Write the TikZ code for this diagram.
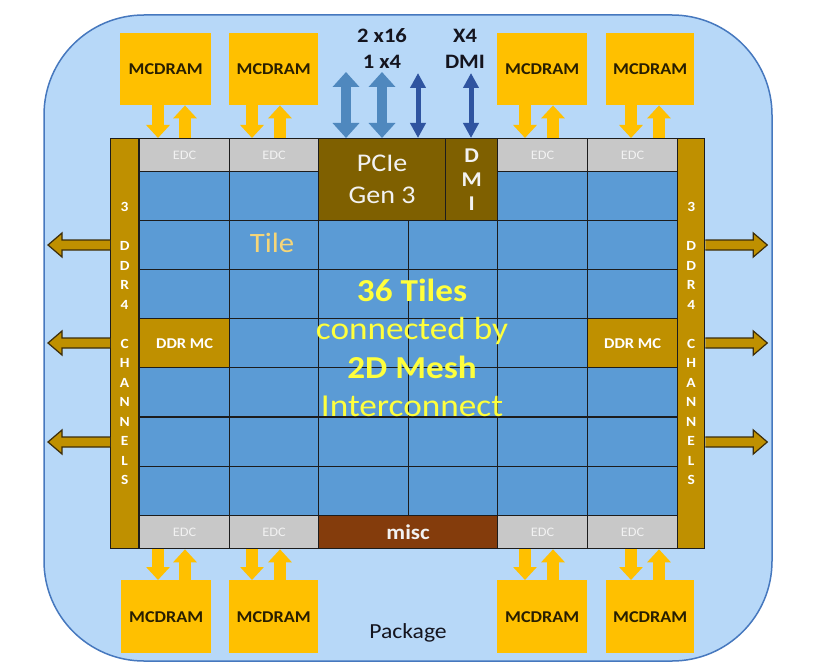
\documentclass[tikz,border=0pt]{standalone}
\usepackage{fontspec}
\setmainfont{Carlito}[FakeStretch=1.1]
\usetikzlibrary{arrows.meta}
\definecolor{cPkgFill}{RGB}{183,216,248}
\definecolor{cPkgLine}{RGB}{70,120,190}
\definecolor{cTile}{RGB}{91,155,213}
\definecolor{cGrid}{RGB}{28,28,28}
\definecolor{cEdc}{RGB}{200,200,200}
\definecolor{cEdcTxt}{RGB}{242,242,242}
\definecolor{cGold}{RGB}{191,144,0}
\definecolor{cGoldLine}{RGB}{60,45,10}
\definecolor{cPcie}{RGB}{127,96,0}
\definecolor{cMisc}{RGB}{132,60,12}
\definecolor{cMcd}{RGB}{255,192,0}
\definecolor{cMcdTxt}{RGB}{40,30,0}
\definecolor{cTileTxt}{RGB}{246,214,120}
\definecolor{cMesh}{RGB}{255,255,60}
\definecolor{cFatBlue}{RGB}{79,136,190}
\definecolor{cThinBlue}{RGB}{47,84,160}
\definecolor{cLabel}{RGB}{20,20,30}
\begin{document}
\begin{tikzpicture}[x=1pt,y=-1pt,
  pkgbox/.style={draw=cPkgLine,line width=1.5pt,fill=cPkgFill,rounded corners=100pt,
    minimum width=728pt,minimum height=646pt,inner sep=0pt},
  mcdbox/.style={fill=cMcd,minimum height=72pt,anchor=north west,inner sep=0pt,
    text=cMcdTxt,font=\fontsize{16.5}{18}\selectfont\bfseries},
  cellbase/.style={draw=cGrid,line width=1.3pt,anchor=north west,inner sep=0pt},
  edccell/.style={cellbase,fill=cEdc,minimum height=33pt,text=cEdcTxt,
    font=\fontsize{13}{14}\selectfont},
  tilecell/.style={cellbase,fill=cTile,minimum height=49pt},
  ddrbar/.style={cellbase,fill=cGold,minimum width=28pt,minimum height=410pt},
  ddrmc/.style={cellbase,fill=cGold,minimum width=90pt,minimum height=49pt,text=white,
    font=\fontsize{15}{17}\selectfont\bfseries},
  barlbl/.style={text=white,align=center,font=\fontsize{14}{19.5}\selectfont\bfseries},
  mcarr/.style={draw=cMcd,line width=12pt,-{Triangle[width=23pt,length=13pt]}},
  ddrarr/.style={fill=cGold,draw=cGoldLine,line width=1.2pt},
  fatarr/.style={draw=cFatBlue,line width=10pt,
    {Triangle[width=26pt,length=15pt]}-{Triangle[width=26pt,length=15pt]}},
  thinarr/.style={draw=cThinBlue,line width=5pt,
    {Triangle[width=15pt,length=15pt]}-{Triangle[width=15pt,length=15pt]}},
  toplbl/.style={text=cLabel,align=center,font=\fontsize{20.5}{26}\selectfont\bfseries}
]
\useasboundingbox (0,0) rectangle (832,671);

% package
\node[pkgbox] (pkg) at (408,338) {};
\node[text=cLabel,font=\fontsize{21.5}{24}\selectfont] (pkglbl) at (408,633) {Package};

% MCDRAM boxes
\node[mcdbox,minimum width=91pt] (m1) at (120,33) {MCDRAM};
\node[mcdbox,minimum width=89pt] (m2) at (229,33) {MCDRAM};
\node[mcdbox,minimum width=90pt] (m3) at (497,33) {MCDRAM};
\node[mcdbox,minimum width=88pt] (m4) at (606,33) {MCDRAM};
\node[mcdbox,minimum width=90pt,minimum height=73pt] (m5) at (121,580) {MCDRAM};
\node[mcdbox,minimum width=89pt,minimum height=73pt] (m6) at (229,580) {MCDRAM};
\node[mcdbox,minimum width=90pt,minimum height=73pt] (m7) at (497,580) {MCDRAM};
\node[mcdbox,minimum width=88pt,minimum height=73pt] (m8) at (606,580) {MCDRAM};

% chip edge cells
\node[edccell,minimum width=90pt] (e1) at (139,138) {EDC};
\node[edccell,minimum width=89pt] (e2) at (229,138) {EDC};
\node[edccell,minimum width=90pt] (e3) at (497,138) {EDC};
\node[edccell,minimum width=90pt] (e4) at (587,138) {EDC};
\node[edccell,minimum width=90pt] (e5) at (139,515) {EDC};
\node[edccell,minimum width=89pt] (e6) at (229,515) {EDC};
\node[edccell,minimum width=90pt] (e7) at (497,515) {EDC};
\node[edccell,minimum width=90pt] (e8) at (587,515) {EDC};

% tiles
\foreach \c/\x/\w in {1/139/90,2/229/89,3/318/90,4/408/89,5/497/90,6/587/90}{
  \foreach \r/\y in {1/171,2/220,3/269,4/318,5/367,6/417,7/466}{
    \node[tilecell,minimum width=\w pt] (t\r\c) at (\x,\y) {};
  }
}

% PCIe / DMI / misc
\node[cellbase,fill=cPcie,minimum width=127pt,minimum height=82pt,text=cEdcTxt,align=center,
  font=\fontsize{25.5}{32}\selectfont] (pcie) at (318,138) {PCIe\\Gen 3};
\node[cellbase,fill=cPcie,minimum width=52pt,minimum height=82pt,text=cEdcTxt,align=center,
  font=\fontsize{21}{24}\selectfont\bfseries] (dmi) at (445,138) {D\\M\\I};
\node[cellbase,fill=cMisc,minimum width=179pt,minimum height=33pt,text=cEdcTxt,
  font=\fontsize{21}{24}\selectfont\bfseries] (misc) at (318,515) {misc};

% DDR MCs
\node[ddrmc] (mcl) at (139,318) {DDR MC};
\node[ddrmc] (mcr) at (587,318) {DDR MC};

% MCDRAM <-> EDC arrows
\draw[mcarr] (m1.south -| 158,0) -- (e1.north -| 158,0);
\draw[mcarr] (e1.north -| 185,0) -- (m1.south -| 185,0);
\draw[mcarr] (m2.south -| 252,0) -- (e2.north -| 252,0);
\draw[mcarr] (e2.north -| 280,0) -- (m2.south -| 280,0);
\draw[mcarr] (m3.south -| 525,0) -- (e3.north -| 525,0);
\draw[mcarr] (e3.north -| 553,0) -- (m3.south -| 553,0);
\draw[mcarr] (m4.south -| 631,0) -- (e4.north -| 631,0);
\draw[mcarr] (e4.north -| 659,0) -- (m4.south -| 659,0);
\draw[mcarr] (e5.south -| 158,0) -- (m5.north -| 158,0);
\draw[mcarr] (m5.north -| 185,0) -- (e5.south -| 185,0);
\draw[mcarr] (e6.south -| 252,0) -- (m6.north -| 252,0);
\draw[mcarr] (m6.north -| 280,0) -- (e6.south -| 280,0);
\draw[mcarr] (e7.south -| 525,0) -- (m7.north -| 525,0);
\draw[mcarr] (m7.north -| 553,0) -- (e7.south -| 553,0);
\draw[mcarr] (e8.south -| 631,0) -- (m8.north -| 631,0);
\draw[mcarr] (m8.north -| 659,0) -- (e8.south -| 659,0);

% I/O labels and arrows
\node[toplbl] (lblpcie) at (382,49) {2 x16\\1 x4};
\node[toplbl] (lbldmi) at (465,49) {X4\\DMI};
\coordinate (pa1) at (346,72);
\coordinate (pa2) at (382,72);
\coordinate (pa3) at (418,73);
\coordinate (pa4) at (471,73);
\draw[fatarr] (pa1) -- (pa1 |- pcie.north);
\draw[fatarr] (pa2) -- (pa2 |- pcie.north);
\draw[thinarr] (pa3) -- (pa3 |- pcie.north);
\draw[thinarr] (pa4) -- (pa4 |- dmi.north);

% DDR bars
\node[ddrbar] (lbar) at (110,138) {};
\node[ddrbar,minimum width=27pt] (rbar) at (677,138) {};
\node[barlbl] (lbarlbl) at (lbar.center) {3\\[19.5pt]D\\D\\R\\4\\[19.5pt]C\\H\\A\\N\\N\\E\\L\\S};
\node[barlbl] (rbarlbl) at (rbar.center) {3\\[19.5pt]D\\D\\R\\4\\[19.5pt]C\\H\\A\\N\\N\\E\\L\\S};

% DDR channel arrows
\foreach \yy in {245,343,442}{
  \draw[ddrarr] (lbar.west |- 0,\yy) ++(0,-5) -- ++(-48,0) -- ++(0,-7) -- ++(-14,12)
    -- ++(14,12) -- ++(0,-7) -- ++(48,0);
  \draw[ddrarr] (rbar.east |- 0,\yy) ++(0,-5) -- ++(48,0) -- ++(0,-7) -- ++(14,12)
    -- ++(-14,12) -- ++(0,-7) -- ++(-48,0);
}

% texts
\node[text=cTileTxt,font=\fontsize{28}{30}\selectfont] (tilelbl) at (272,243) {Tile};
\node[text=cMesh,align=center,font=\fontsize{32}{38.5}\selectfont] (meshlbl) at (412,348)
  {\textbf{36 Tiles}\\connected by\\\textbf{2D Mesh}\\Interconnect};
\end{tikzpicture}
\end{document}
